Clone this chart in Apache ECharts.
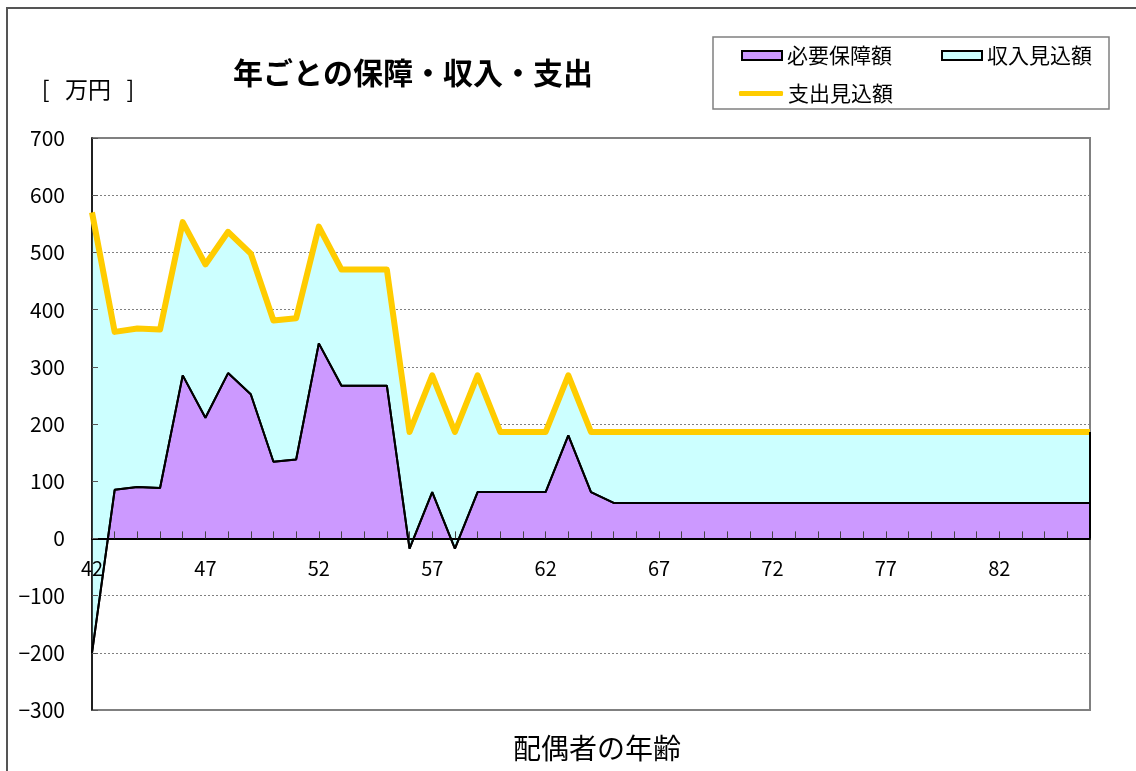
<!DOCTYPE html>
<html>
<head>
<meta charset="utf-8">
<title>年ごとの保障・収入・支出</title>
<script src="https://cdn.jsdelivr.net/npm/echarts@6/dist/echarts.min.js"></script>
<style>
  html, body { margin: 0; padding: 0; background: #ffffff; }
  #chart { width: 1136px; height: 771px; }
</style>
</head>
<body>
<div id="chart"></div>
<script>
  // 配偶者の年齢
  var ages = ['42', '43', '44', '45', '46', '47', '48', '49', '50', '51', '52', '53', '54', '55', '56',
              '57', '58', '59', '60', '61', '62', '63', '64', '65', '66', '67', '68', '69', '70', '71',
              '72', '73', '74', '75', '76', '77', '78', '79', '80', '81', '82', '83', '84', '85', '86'];

  // 必要保障額 [万円]
  var needList = [-200, 85, 90, 88, 285, 211, 289, 252, 134, 138, 341, 267, 267, 267, -18,
                  81, -18, 81, 81, 81, 81, 180, 81, 62, 62, 62, 62, 62, 62, 62,
                  62, 62, 62, 62, 62, 62, 62, 62, 62, 62, 62, 62, 62, 62, 62];

  // 支出見込額 [万円]
  var expenseList = [570, 361, 367, 365, 553, 479, 536, 498, 381, 385, 545, 470, 470, 470, 186,
                     285, 186, 285, 186, 186, 186, 285, 186, 186, 186, 186, 186, 186, 186, 186,
                     186, 186, 186, 186, 186, 186, 186, 186, 186, 186, 186, 186, 186, 186, 186];

  // 縦軸の目盛
  var yTicks = [-300, -200, -100, 0, 100, 200, 300, 400, 500, 600, 700];

  var fontName = 'Noto Sans CJK JP';
  var last = ages.length - 1;

  // 収入見込額は必要保障額の上に積み上げ、上端が支出見込額になる
  var incomeList = expenseList.map(function (v, i) { return v - needList[i]; });

  var myChart = echarts.init(document.getElementById('chart'));

  var option = {
    backgroundColor: '#ffffff',
    animation: false,
    textStyle: { fontFamily: fontName },
    graphic: [
      {
        type: 'rect', silent: true,
        shape: { x: 7, y: 8, width: 1150, height: 800 },
        style: { fill: null, stroke: '#555555', lineWidth: 2 }
      },
      {
        type: 'rect', silent: true,
        shape: { x: 713, y: 37, width: 396, height: 72 },
        style: { fill: '#ffffff', stroke: '#808080', lineWidth: 1.5 },
        z: -1
      },
      {
        type: 'text', x: 413, y: 73,
        style: { text: '年ごとの保障・収入・支出', font: 'bold 30px "Noto Sans CJK JP"', fill: '#000', textAlign: 'center', textVerticalAlign: 'middle' }
      },
      {
        type: 'text', x: 88, y: 89,
        style: { text: '[   万円   ]', font: '23px "Noto Sans CJK JP"', fill: '#000', textAlign: 'center', textVerticalAlign: 'middle' }
      },
      {
        type: 'text', x: 597, y: 748,
        style: { text: '配偶者の年齢', font: '28px "Noto Sans CJK JP"', fill: '#000', textAlign: 'center', textVerticalAlign: 'middle' }
      }
    ],
    legend: [
      {
        left: 741, top: 45, padding: 0,
        itemWidth: 40, itemHeight: 9, itemGap: 49,
        selectedMode: false,
        textStyle: { fontSize: 21, color: '#000', fontFamily: fontName },
        data: [
          { name: '必要保障額', icon: 'rect', itemStyle: { color: '#CC99FF', borderColor: '#000', borderWidth: 2 } },
          { name: '収入見込額', icon: 'rect', itemStyle: { color: '#CCFFFF', borderColor: '#000', borderWidth: 2 } }
        ]
      },
      {
        left: 739, top: 83, padding: 0,
        itemWidth: 44, itemHeight: 5,
        selectedMode: false,
        textStyle: { fontSize: 21, color: '#000', fontFamily: fontName },
        data: [
          { name: '支出見込額', icon: 'roundRect', itemStyle: { color: '#FFCC00' } }
        ]
      }
    ],
    grid: {
      left: 92, right: 46, top: 138, bottom: 61,
      show: true, backgroundColor: '#ffffff',
      borderColor: '#808080', borderWidth: 2
    },
    xAxis: {
      type: 'category',
      data: ages,
      boundaryGap: false,
      z: 3,
      offset: 0,
      axisLine: { onZero: false, lineStyle: { color: '#000', width: 2 } },
      axisTick: { show: true, inside: true, length: 7, interval: 0, lineStyle: { color: '#444' } },
      axisLabel: { interval: 4, margin: 20, fontSize: 20, color: '#000' },
      splitLine: { show: false }
    },
    yAxis: {
      type: 'value',
      min: yTicks[0],
      max: yTicks[yTicks.length - 1],
      interval: yTicks[1] - yTicks[0],
      z: 3,
      axisLine: { show: true, lineStyle: { color: '#000', width: 1.5 } },
      axisTick: { show: true, inside: true, length: 6, lineStyle: { color: '#555' } },
      axisLabel: {
        fontSize: 21, color: '#000', margin: 27,
        formatter: function (v) { return String(v).replace('-', '\u2212'); }
      },
      splitLine: { lineStyle: { color: '#808080', type: [2, 2], width: 1 } }
    },
    series: [
      {
        name: '必要保障額',
        type: 'line',
        data: needList,
        stack: 'total',
        stackStrategy: 'all',
        symbol: 'none',
        lineStyle: { color: '#000', width: 2 },
        itemStyle: { color: '#CC99FF' },
        areaStyle: { color: '#CC99FF', opacity: 1 }
      },
      {
        name: '収入見込額',
        type: 'line',
        data: incomeList,
        stack: 'total',
        stackStrategy: 'all',
        symbol: 'none',
        lineStyle: { color: '#000', width: 2 },
        itemStyle: { color: '#CCFFFF' },
        areaStyle: { color: '#CCFFFF', opacity: 1 }
      },
      {
        // 必要保障額の境界線を収入見込額の面より前に描く
        name: 'needBorder',
        type: 'line',
        data: needList,
        symbol: 'none',
        silent: true,
        lineStyle: { color: '#000', width: 2 },
        markLine: {
          silent: true,
          symbol: 'none',
          label: { show: false },
          lineStyle: { color: '#000', width: 2, type: 'solid' },
          data: [[{ coord: [ages[last], 0] }, { coord: [ages[last], expenseList[last]] }]]
        }
      },
      {
        name: '支出見込額',
        type: 'line',
        data: expenseList,
        symbol: 'none',
        z: 4,
        lineStyle: { color: '#FFCC00', width: 6, join: 'round' },
        itemStyle: { color: '#FFCC00' }
      }
    ]
  };

  if (option && typeof option === 'object') {
    myChart.setOption(option, true);
  }

  // 横軸(目盛ラベルごと)を0の位置へ移動
  var zeroY = myChart.convertToPixel({ yAxisIndex: 0 }, 0);
  var bottomY = myChart.convertToPixel({ yAxisIndex: 0 }, yTicks[0]);
  myChart.setOption({ xAxis: { offset: zeroY - bottomY } });
</script>
</body>
</html>
